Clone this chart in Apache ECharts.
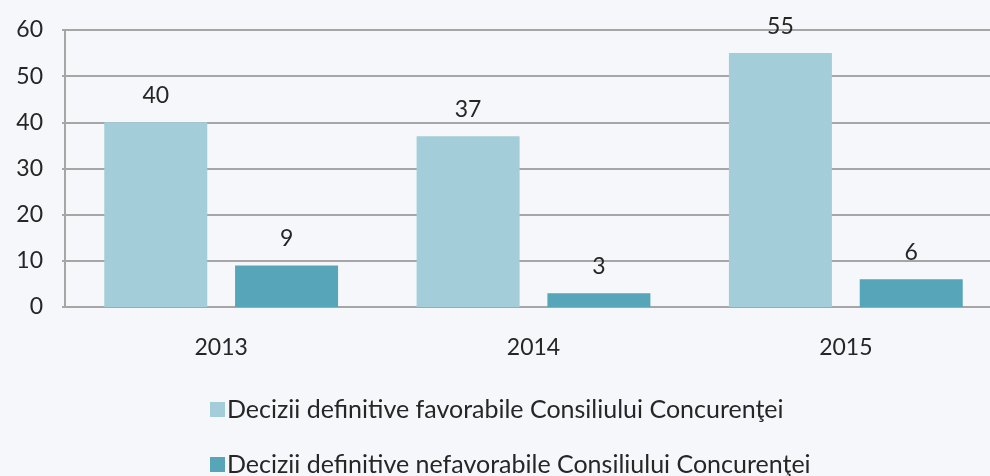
<!DOCTYPE html>
<html>
<head>
<meta charset="utf-8">
<script src="https://cdn.jsdelivr.net/npm/echarts@6/dist/echarts.min.js"></script>
<style>
  html, body { margin: 0; padding: 0; background: #f6f7fb; overflow: hidden; }
  #chart { width: 1005px; height: 476px; }
</style>
</head>
<body>
<div id="chart"></div>
<script>
// Years and decision counts
const years = ['2013', '2014', '2015'];
const favorabile = [40, 37, 55];
const nefavorabile = [9, 3, 6];
const yTicks = [0, 10, 20, 30, 40, 50, 60];

const seriesNames = [
  'Decizii definitive favorabile Consiliului Concurenţei',
  'Decizii definitive nefavorabile Consiliului Concurenţei'
];
const seriesColors = ['#a3cdd9', '#57a5b8'];

const font = 'Lato, "Open Sans", sans-serif';
const fontSize = 23;
const textColor = '#262626';
const gridColor = '#a6a6a6';

const chart = echarts.init(document.getElementById('chart'), null, { renderer: 'canvas' });

const labelStyle = {
  show: true,
  position: 'top',
  distance: 15,
  color: textColor,
  fontFamily: font,
  fontSize: fontSize
};

// one legend block per series, stacked vertically
const legendTops = [392, 447];
const legends = seriesNames.map((name, i) => ({
  left: 205,
  top: legendTops[i],
  itemWidth: 15,
  itemHeight: 15,
  icon: 'rect',
  textStyle: { color: textColor, fontFamily: font, fontSize: 25, padding: [0, 0, 0, -3] },
  data: [name]
}));

chart.setOption({
  backgroundColor: '#f6f7fb',
  animation: false,
  color: seriesColors,
  textStyle: { fontFamily: font },
  grid: { left: 65, top: 30, right: 3, height: 277, containLabel: false, outerBoundsMode: 'none' },
  legend: legends,
  xAxis: {
    type: 'category',
    data: years,
    axisLine: { show: true, lineStyle: { color: gridColor, width: 2 } },
    axisTick: { show: false },
    axisLabel: { color: textColor, fontFamily: font, fontSize: fontSize, margin: 29 }
  },
  yAxis: {
    type: 'value',
    min: yTicks[0],
    max: yTicks[yTicks.length - 1],
    interval: 10,
    axisLine: { show: true, lineStyle: { color: gridColor, width: 2 } },
    axisTick: { show: true, length: 3, lineStyle: { color: gridColor, width: 2 } },
    axisLabel: { color: textColor, fontFamily: font, fontSize: fontSize, margin: 22 },
    splitLine: { show: true, lineStyle: { color: gridColor, width: 2 } }
  },
  series: [
    {
      name: seriesNames[0],
      type: 'bar',
      data: favorabile,
      barWidth: 103,
      barGap: '27%',
      itemStyle: { color: seriesColors[0] },
      label: labelStyle
    },
    {
      name: seriesNames[1],
      type: 'bar',
      data: nefavorabile,
      barWidth: 103,
      barGap: '27%',
      itemStyle: { color: seriesColors[1] },
      label: labelStyle
    }
  ]
});
</script>
</body>
</html>
